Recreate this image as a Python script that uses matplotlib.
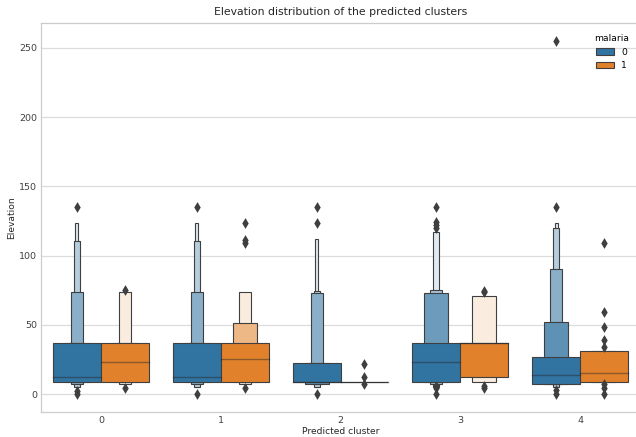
import numpy as np
import matplotlib
matplotlib.use("Agg")
import matplotlib.pyplot as plt
import matplotlib.patches as mpatches

clusters = [0, 1, 2, 3, 4]
hue_labels = ["0", "1"]

# letter-value box ends per cluster, innermost box (IQR) first
no_malaria_low = [
    [8.9, 8.9, 7.4, 5.5, 5.0],
    [8.9, 8.9, 7.4, 5.0, 5.0],
    [8.9, 7.4, 7.4, 5.0, 5.0],
    [8.9, 8.9, 7.4, 5.5],
    [7.2, 7.2, 7.2, 5.0, 5.0],
]
no_malaria_high = [
    [37.0, 37.0, 73.8, 110.6, 123.4],
    [37.0, 37.0, 73.8, 110.6, 123.4],
    [22.8, 22.8, 72.9, 74.5, 111.8],
    [37.0, 72.9, 75.0, 116.9],
    [26.7, 51.9, 90.4, 120.2, 123.4],
]
no_malaria_median = [12.3, 12.3, 8.9, 23.5, 13.9]
no_malaria_outliers = [
    [135, 2, 0],
    [135, 0],
    [135, 123.4, 0],
    [135, 124, 122, 120, 6, 4.3, 0],
    [255, 135, 3, 0],
]

malaria_low = [
    [8.9, 8.9, 7.4],
    [8.9, 8.9, 7.4],
    [8.9],
    [12.3, 8.9],
    [8.9, 8.9],
]
malaria_high = [
    [37.0, 37.0, 73.8],
    [37.0, 51.7, 73.8],
    [8.9],
    [37.0, 70.7],
    [31.2, 31.2],
]
malaria_median = [23.3, 25.2, 8.9, 37.0, 15.1]
malaria_outliers = [
    [75.5, 4.3],
    [123.4, 111, 109.5, 4.3],
    [21.5, 12.1, 7.2],
    [74.5, 73.5, 6, 4.3],
    [109.4, 59.6, 48.8, 39.2, 34.4, 7.4, 4.3, 0],
]

BLUE = (0.196, 0.455, 0.631)
ORANGE = (0.882, 0.506, 0.173)
GRAY = "#3f3f3f"
HUE_WIDTH = 0.4


# draw one letter-value (boxen) glyph, outermost box first
def draw_boxen(ax, x, lows, highs, median, outliers, color):
    n = len(lows)
    base = np.array(color)
    light = base + 0.85 * (1 - base)
    for i in range(n - 1, -1, -1):
        t = i / (n - 1) if n > 1 else 1.0
        fc = base + t * (light - base)
        ax.bar(x, highs[i] - lows[i], width=HUE_WIDTH * 0.5 ** i, bottom=lows[i],
               color=fc, edgecolor=GRAY, linewidth=0.8, zorder=2)
    ax.plot([x - HUE_WIDTH / 2, x + HUE_WIDTH / 2], [median, median],
            color=".15", alpha=0.45, linewidth=1.0, zorder=3)
    ax.scatter([x] * len(outliers), outliers, marker="d", c=GRAY, s=30,
               linewidths=0, zorder=3)


fig = plt.figure(figsize=(6.36, 4.37), dpi=100)
ax = fig.add_axes([41 / 636, 25.3 / 437, 599 / 636, 388.4 / 437])

for c in clusters:
    draw_boxen(ax, c - 0.2, no_malaria_low[c], no_malaria_high[c],
               no_malaria_median[c], no_malaria_outliers[c], BLUE)
    draw_boxen(ax, c + 0.2, malaria_low[c], malaria_high[c],
               malaria_median[c], malaria_outliers[c], ORANGE)

ax.set_xlim(-0.5, 4.5)
ax.set_ylim(-12.6, 267.7)
ax.set_xticks(clusters)
ax.set_xticklabels([str(c) for c in clusters])
ax.set_yticks([0, 50, 100, 150, 200, 250])

ax.set_axisbelow(True)
ax.grid(axis="y", color="#dcdcdc", linewidth=0.9)
ax.tick_params(length=0, labelsize=6.8, labelcolor="#404040", pad=2.8)
for s in ax.spines.values():
    s.set_color("#cccccc")
    s.set_linewidth(0.9)

ax.set_xlabel("Predicted cluster", fontsize=6.6, color="#262626", labelpad=2)
ax.set_ylabel("Elevation", fontsize=6.6, color="#262626", labelpad=2.5)
ax.set_title("Elevation distribution of the predicted clusters", fontsize=7.8,
             color="#262626", pad=6)

handles = [mpatches.Patch(facecolor=BLUE, edgecolor=GRAY, linewidth=0.8),
           mpatches.Patch(facecolor=ORANGE, edgecolor=GRAY, linewidth=0.8)]
leg = ax.legend(handles, hue_labels, title="malaria", loc="upper right",
                frameon=False, fontsize=6.6, title_fontsize=6.6,
                borderaxespad=0.8)

fig.savefig("out.png", dpi=100)
